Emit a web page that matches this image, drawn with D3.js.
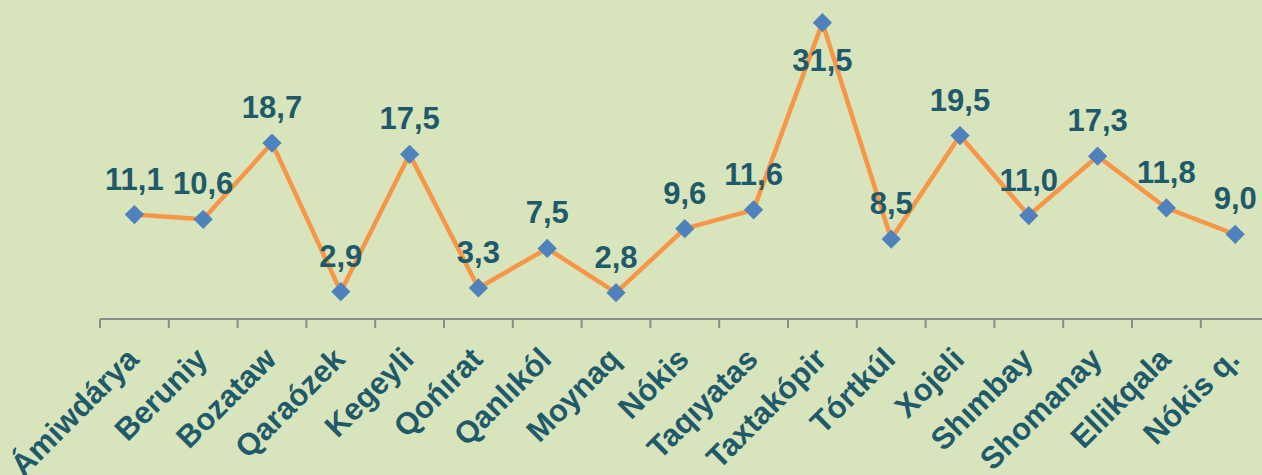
<!DOCTYPE html>
<html>
<head>
<meta charset="utf-8">
<script src="https://d3js.org/d3.v7.min.js"></script>
<style>
    body { margin: 0; background: #d8e4bc; }
    svg { display: block; font-family: "Liberation Sans", Arial, sans-serif; }
    .lbl { font-weight: bold; font-size: 31px; fill: #1f5a6b; }
</style>
</head>
<body>
<svg id="chart"></svg>
<script>
    // districts and their values
    var districts = ["Ámiwdárya", "Beruniy", "Bozataw", "Qaraózek", "Kegeyli", "Qońırat", "Qanlıkól",
        "Moynaq", "Nókis", "Taqıyatas", "Taxtakópir", "Tórtkúl", "Xojeli", "Shımbay", "Shomanay",
        "Ellikqala", "Nókis q."];
    var values = [11.1, 10.6, 18.7, 2.9, 17.5, 3.3, 7.5, 2.8, 9.6, 11.6, 31.5, 8.5, 19.5, 11.0, 17.3, 11.8, 9.0];

    var width = 1262, height = 475,
        left = 100, step = 68.8, axisY = 319;

    var svg = d3.select("#chart")
        .attr("width", width)
        .attr("height", height);

    svg.append("rect")
        .attr("width", width)
        .attr("height", height)
        .attr("fill", "#d8e4bc");

    var x = d3.scaleBand()
        .domain(districts)
        .range([left, left + step * districts.length])
        .padding(0);

    var y = d3.scaleLinear()
        .domain([0, 35])
        .range([axisY, axisY - 35 * 9.408]);

    var cx = function(d) { return x(d) + x.bandwidth() / 2; };

    // category axis
    svg.append("line")
        .attr("x1", left).attr("x2", width)
        .attr("y1", y(0)).attr("y2", y(0))
        .attr("stroke", "#8c8c8c")
        .attr("stroke-width", 2);

    svg.selectAll(".tick")
        .data(districts)
        .enter().append("line")
        .attr("class", "tick")
        .attr("x1", d => x(d)).attr("x2", d => x(d))
        .attr("y1", y(0)).attr("y2", y(0) + 9)
        .attr("stroke", "#8c8c8c")
        .attr("stroke-width", 2);

    svg.selectAll(".xl")
        .data(districts)
        .enter().append("text")
        .attr("class", "lbl xl")
        .attr("text-anchor", "end")
        .attr("transform", d => "translate(" + (cx(d) + 6) + "," + (y(0) + 42) + ") rotate(-45)")
        .text(d => d);

    // the line
    var pts = districts.map((d, i) => [cx(d), y(values[i])]);

    svg.append("path")
        .attr("d", d3.line()(pts))
        .attr("fill", "none")
        .attr("stroke", "#f79646")
        .attr("stroke-width", 4.5)
        .attr("stroke-linejoin", "round");

    svg.selectAll(".mk")
        .data(pts)
        .enter().append("path")
        .attr("class", "mk")
        .attr("d", d3.symbol().type(d3.symbolSquare).size(185))
        .attr("transform", d => "translate(" + d[0] + "," + d[1] + ") rotate(45)")
        .attr("fill", "#4f81bd");

    // value labels, pushed below the marker when they would leave the top
    var fmt = v => d3.format(".1f")(v).replace(".", ",");

    svg.selectAll(".vl")
        .data(values)
        .enter().append("text")
        .attr("class", "lbl vl")
        .attr("text-anchor", "middle")
        .attr("x", (d, i) => cx(districts[i]))
        .attr("y", d => y(d) - 25 - 22 < 0 ? y(d) + 48 : y(d) - 25)
        .text(fmt);
</script>
</body>
</html>
